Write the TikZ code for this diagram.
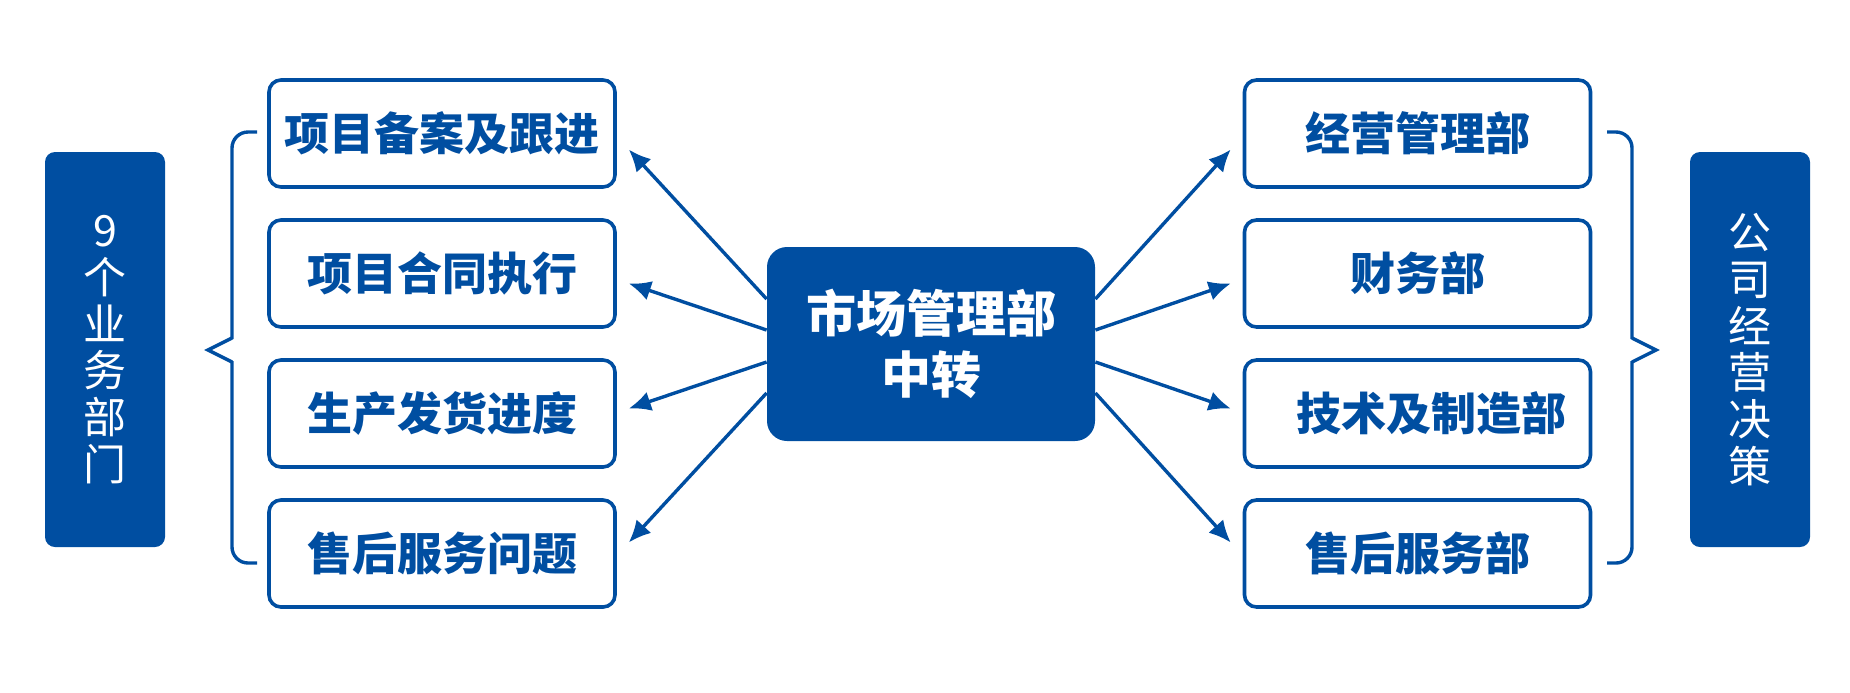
\documentclass[tikz,border=0pt]{standalone}
\usepackage{fontspec}
\newfontfamily\cjk{Noto Sans CJK SC}
\usetikzlibrary{arrows.meta,calc}
\definecolor{navy}{RGB}{0,78,161}
\begin{document}
\begin{tikzpicture}[x=0.5pt,y=-0.5pt,
  itembox/.style={draw=navy,line width=1.8pt,rounded corners=6pt,fill=white,
    minimum width=173pt,minimum height=53.5pt,inner sep=0pt,text=navy,
    font=\cjk\bfseries\fontsize{22.5pt}{27pt}\selectfont},
  hubbox/.style={fill=navy,rounded corners=10pt,minimum width=164pt,minimum height=97pt,
    inner sep=0pt,text=white,align=center,
    font=\cjk\bfseries\fontsize{25pt}{30.5pt}\selectfont},
  sidebox/.style={fill=navy,rounded corners=5pt,minimum width=60pt,minimum height=197.5pt,
    inner sep=0pt,text=white,align=center,
    font=\cjk\fontsize{21.5pt}{23.4pt}\selectfont},
  conn/.style={draw=navy,line width=1.7pt,-{Latex[length=11pt,width=10pt]}},
  bracepath/.style={draw=navy,line width=1.7pt}
]
\useasboundingbox (0,0) rectangle (1850,692);

% side boxes
\node[sidebox] (lside) at (105,349.5) {9\\个\\业\\务\\部\\门};
\node[sidebox] (rside) at (1750,349.5) {公\\司\\经\\营\\决\\策};

% hub
\node[hubbox] (hub) at (931,344) {市场管理部\\中转};

% left items
\node[itembox] (l1) at (442,133.5) {项目备案及跟进};
\node[itembox] (l2) at (442,273.5) {项目合同执行};
\node[itembox] (l3) at (442,413.5) {生产发货进度};
\node[itembox] (l4) at (442,553.5) {售后服务问题};

% right items
\node[itembox] (r1) at (1417.5,133.5) {经营管理部};
\node[itembox] (r2) at (1417.5,273.5) {财务部};
\node[itembox] (r3) at (1417.5,413.5) {\hspace*{14pt}技术及制造部};
\node[itembox] (r4) at (1417.5,553.5) {售后服务部};

% connectors left
\draw[conn] ($(hub.west)+(0,-45)$) -- ($(l1.east)+(12,16)$);
\draw[conn] ($(hub.west)+(0,-14)$) -- ($(l2.east)+(12,10)$);
\draw[conn] ($(hub.west)+(0,18)$)  -- ($(l3.east)+(12,-5)$);
\draw[conn] ($(hub.west)+(0,49)$)  -- ($(l4.east)+(12,-11)$);
% connectors right
\draw[conn] ($(hub.east)+(0,-45)$) -- ($(r1.west)+(-12,16)$);
\draw[conn] ($(hub.east)+(0,-14)$) -- ($(r2.west)+(-12,10)$);
\draw[conn] ($(hub.east)+(0,18)$)  -- ($(r3.west)+(-12,-5)$);
\draw[conn] ($(hub.east)+(0,49)$)  -- ($(r4.west)+(-12,-11)$);

% left brace
\draw[bracepath,rounded corners=8pt] (257,132) -- (232,132) -- (232,339);
\draw[bracepath] (232,338) -- (208,350) -- (232,362);
\draw[bracepath,rounded corners=8pt] (232,361) -- (232,563) -- (257,563);

% right brace
\draw[bracepath,rounded corners=8pt] (1607,132) -- (1632,132) -- (1632,339);
\draw[bracepath] (1632,338) -- (1656,350) -- (1632,362);
\draw[bracepath,rounded corners=8pt] (1632,361) -- (1632,563) -- (1607,563);
\end{tikzpicture}
\end{document}
